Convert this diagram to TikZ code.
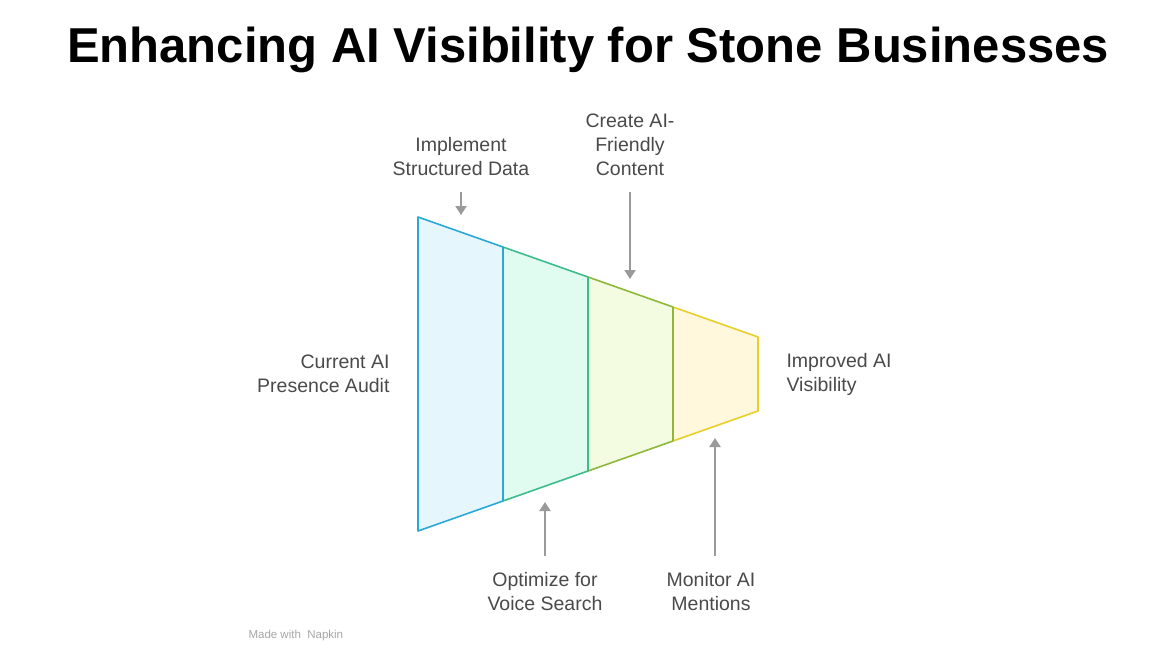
\documentclass[tikz,border=0pt]{standalone}
\usepackage{fontspec}
\setmainfont{Liberation Sans}
\usetikzlibrary{arrows.meta}
\definecolor{txt}{HTML}{4A4A4A}
\definecolor{arr}{HTML}{9A9A9A}
\definecolor{c1}{HTML}{2AA8D8}\definecolor{c2}{HTML}{3DBD8C}\definecolor{c3}{HTML}{8DB83A}\definecolor{c4}{HTML}{E8CF2A}
\begin{document}
\begin{tikzpicture}[x=1pt,y=-1pt,
  lab/.style={font=\fontsize{19.5}{24}\selectfont,text=txt,align=center},
  ar/.style={draw=arr,line width=2pt,-{Triangle[length=9pt,width=11pt]}},
  seg/.style={line width=1.6pt,line join=round}]
\useasboundingbox (0,0) rectangle (1170,658);
\fill[white] (0,0) rectangle (1170,658);
\node[font=\fontsize{49}{54}\selectfont\bfseries] (title) at (588,50) {Enhancing AI Visibility for Stone Businesses};
\filldraw[seg,draw=c1,fill={rgb,255:red,230;green,246;blue,253}] (418,217) -- (503,247) -- (503,501) -- (418,531) -- cycle;
\filldraw[seg,draw=c2,fill={rgb,255:red,224;green,251;blue,239}] (503,247) -- (588,277) -- (588,471) -- (503,501);
\filldraw[seg,draw=c3,fill={rgb,255:red,243;green,252;blue,224}] (588,277) -- (673,307) -- (673,441) -- (588,471);
\filldraw[seg,draw=c4,fill={rgb,255:red,255;green,248;blue,220}] (673,307) -- (758,337) -- (758,411) -- (673,441);
\draw[seg,c1] (503,247) -- (503,501);
\draw[seg,c2] (588,277) -- (588,471);
\draw[seg,c3] (673,307) -- (673,441);
\node[lab] (l1) at (461,157) {Implement\\Structured Data};
\node[lab] (l2) at (630,145) {Create AI-\\Friendly\\Content};
\node[lab,align=right,anchor=east] (l0) at (393,374) {Current AI\\Presence Audit};
\node[lab,align=left,anchor=west] (l5) at (783,374) {Improved AI\\Visibility};
\node[lab] (l3) at (545,592) {Optimize for\\Voice Search};
\node[lab] (l4) at (711,592) {Monitor AI\\Mentions};
\coordinate (a1) at (461,215); \coordinate (a2) at (630,279);
\coordinate (a3) at (545,502); \coordinate (a4) at (715,438);
\coordinate (b1) at (461,192); \coordinate (b2) at (630,192);
\coordinate (b3) at (545,556); \coordinate (b4) at (715,556);
\draw[ar] (b1) -- (a1);
\draw[ar] (b2) -- (a2);
\draw[ar] (b3) -- (a3);
\draw[ar] (b4) -- (a4);
\node[font=\fontsize{11.5}{13}\selectfont,text=gray!70,anchor=west] (wm) at (245,636) {Made with \;Napkin};
\end{tikzpicture}
\end{document}
